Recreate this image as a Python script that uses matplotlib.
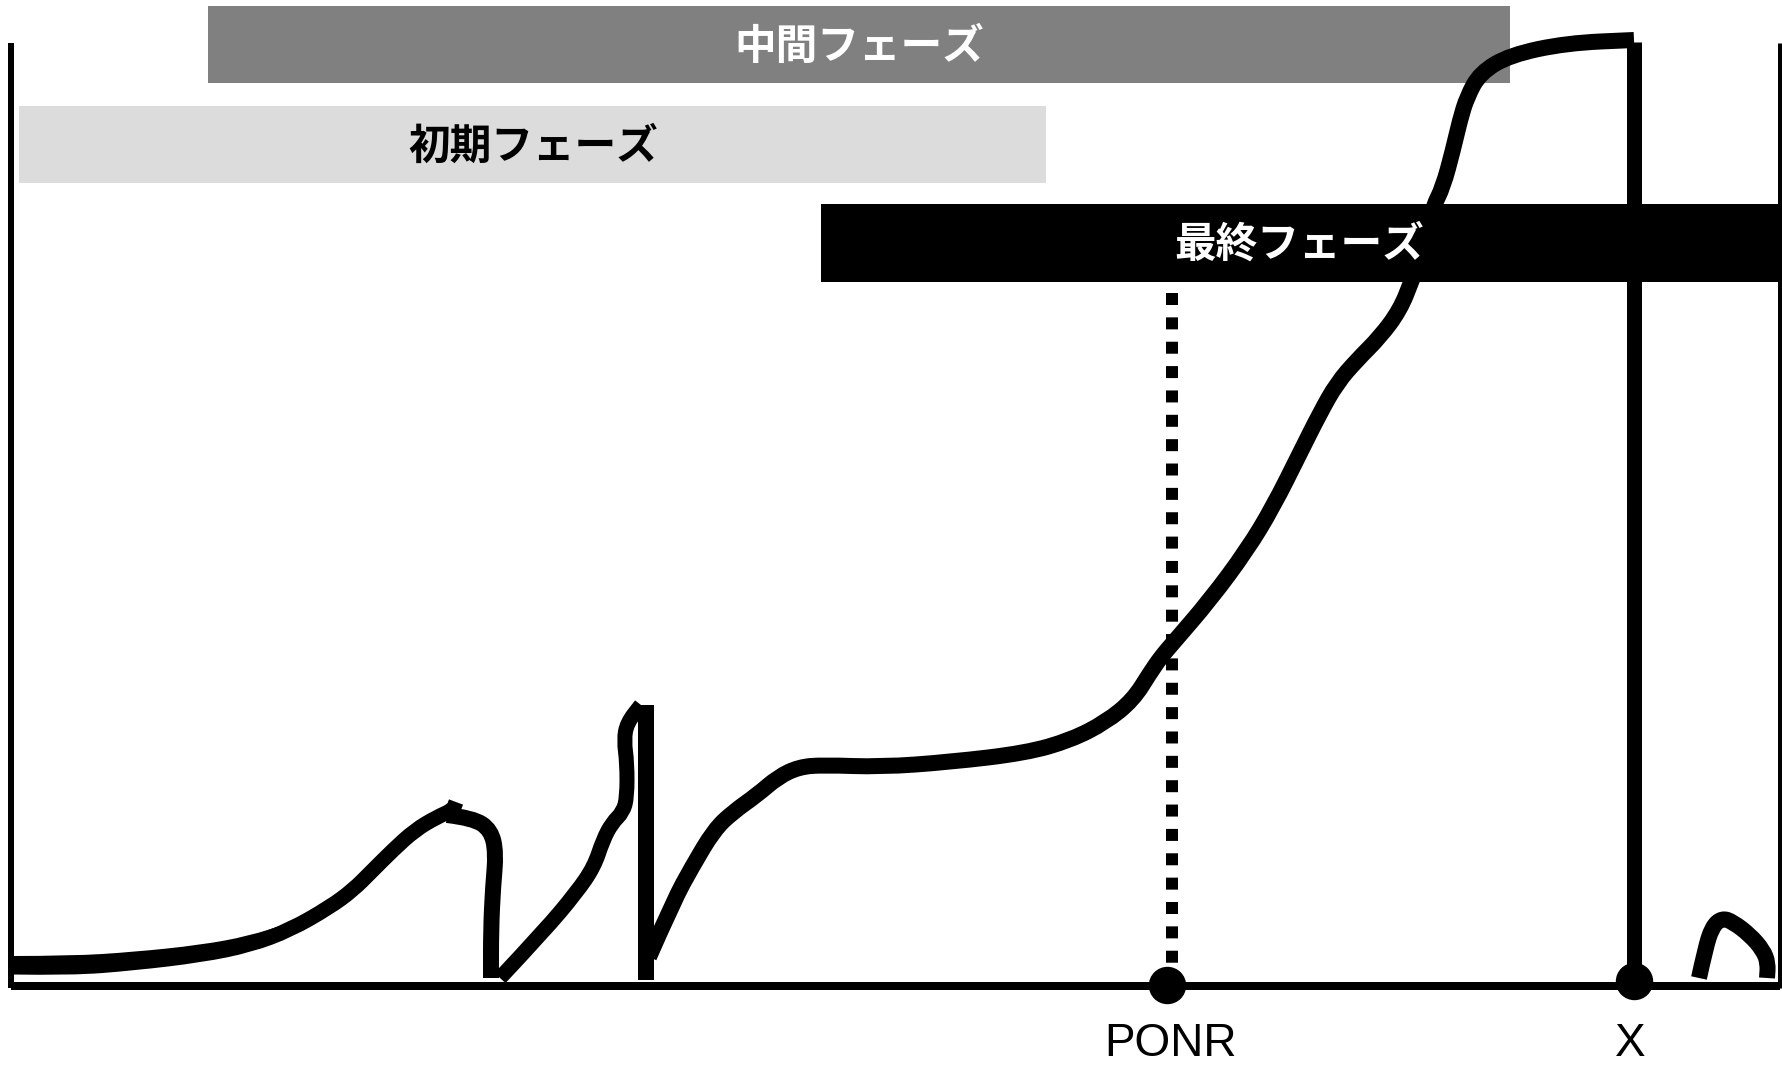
import matplotlib.pyplot as plt
from matplotlib.path import Path
from matplotlib.patches import PathPatch

plt.rcParams['font.family'] = ['Noto Sans CJK JP', 'DejaVu Sans']

# ---------- DATA (pixel coords of the hand-drawn sketch, y grows downward) ----------
phase_labels = ["中間フェーズ", "初期フェーズ", "最終フェーズ"]
phase_x0 = [208, 19, 821]
phase_x1 = [1510, 1046, 1783]
phase_y0 = [6, 106, 204]
phase_y1 = [83, 183, 282]
phase_colors = ["#808080", "#dcdcdc", "#000000"]
phase_text_colors = ["white", "black", "white"]
phase_text_x = [859, 533, 1299]

# early wobble, first stroke
early_x = [11, 71, 134, 201, 250, 290, 330, 353, 371, 393, 415, 437, 453, 456]
early_y = [967, 968, 963, 955, 945, 930, 907, 890, 872, 850, 830, 817, 810, 802]
# thick overlap at the start of the stroke
early2_x = [11, 71, 134, 201, 250, 290]
early2_y = [962, 962, 958, 951, 942, 929]

# second stroke: hook down, diagonal up to the spike
mid_x = [447, 473, 491, 496, 493, 491, 491]
mid_y = [815, 818, 830, 853, 887, 930, 978]
diag_x = [500, 545, 576, 594, 603, 612, 623, 627, 627, 624, 627, 641]
diag_y = [978, 930, 893, 867, 840, 823, 812, 797, 763, 740, 723, 705]
spike_x = [646, 646]
spike_y = [705, 980]

# main rise up to X
rise_x = [649, 674, 692, 714, 733, 757, 778, 799, 823, 881, 950, 1026, 1071, 1106,
          1133, 1150, 1161, 1173, 1210, 1247, 1273, 1300, 1320, 1337, 1357, 1380,
          1400, 1412, 1420, 1428, 1433, 1443, 1453, 1460, 1467, 1480, 1510, 1567, 1634]
rise_y = [957, 900, 867, 830, 812, 795, 777, 767, 765, 767, 762, 753, 740, 722,
          700, 673, 657, 643, 600, 550, 507, 453, 413, 383, 360, 337,
          310, 280, 258, 230, 207, 187, 150, 120, 97, 73, 55, 43, 40]
x_line_x = [1634, 1634]
x_line_y = [42, 978]

# small hump after X
hump_x = [1699, 1705, 1712, 1722, 1733, 1750, 1763, 1768, 1767]
hump_y = [978, 950, 927, 918, 922, 935, 950, 963, 978]

# frame
left_x = [11, 11]
left_y = [43, 988]
bottom_x = [11, 1780]
bottom_y = [986, 986]
right_x = [1780, 1780]
right_y = [43, 988]

# PONR dotted line and markers
ponr_x = 1172
ponr_top = 293
ponr_bottom = 963
marker_x = [1167, 1634]
marker_y = [985, 981]
marker_labels = ["PONR", "X"]
label_x = [1171, 1630]
label_y = [1044, 1044]


def smooth_path(xs, ys):
    # quadratic bezier through midpoints, read points act as control points
    pts = list(zip(xs, ys))
    verts = [pts[0]]
    codes = [Path.MOVETO]
    for i in range(1, len(pts) - 1):
        mid = ((pts[i][0] + pts[i + 1][0]) / 2, (pts[i][1] + pts[i + 1][1]) / 2)
        verts += [pts[i], mid]
        codes += [Path.CURVE3, Path.CURVE3]
    verts.append(pts[-1])
    codes.append(Path.LINETO)
    return Path(verts, codes)


# ---------- PLOT ----------
fig = plt.figure(figsize=(17.83, 10.68), dpi=100)
ax = fig.add_axes([0, 0, 1, 1])
ax.set_xlim(0, 1783)
ax.set_ylim(1068, 0)
ax.axis('off')

px = 0.72  # points per pixel at dpi 100

# phase bars
for i, lab in enumerate(phase_labels):
    z = 1 if i < 2 else 4
    ax.fill_between([phase_x0[i], phase_x1[i]], phase_y0[i], phase_y1[i],
                    color=phase_colors[i], lw=0, zorder=z)
    ax.text(phase_text_x[i], (phase_y0[i] + phase_y1[i]) / 2 + 2, lab,
            ha='center', va='center', fontsize=30, fontweight='bold',
            color=phase_text_colors[i], zorder=5)

# frame
for xs, ys, w in [(left_x, left_y, 6), (bottom_x, bottom_y, 8), (right_x, right_y, 5)]:
    ax.plot(xs, ys, color='black', lw=w * px, solid_capstyle='butt', zorder=2)

# dotted PONR line
ax.plot([ponr_x, ponr_x], [ponr_top, ponr_bottom], color='black', lw=12 * px,
        linestyle=(0, (1, 1.03)), dash_capstyle='butt', zorder=2)

# curve strokes
for xs, ys, w in [(early_x, early_y, 15), (early2_x, early2_y, 12),
                  (mid_x, mid_y, 16), (diag_x, diag_y, 15),
                  (rise_x, rise_y, 16), (hump_x, hump_y, 16)]:
    ax.add_patch(PathPatch(smooth_path(xs, ys), fill=False, edgecolor='black',
                           lw=w * px, capstyle='butt', joinstyle='round', zorder=3))

kw = dict(color='black', solid_capstyle='butt', zorder=3)
ax.plot(spike_x, spike_y, lw=16 * px, **kw)
ax.plot(x_line_x, x_line_y, lw=15 * px, **kw)

# markers + labels
ax.plot(marker_x, marker_y, 'o', color='black', ms=36 * px, zorder=6)
for i, lab in enumerate(marker_labels):
    ax.text(label_x[i], label_y[i], lab, ha='center', va='center',
            fontsize=33, family=['Liberation Sans', 'DejaVu Sans'], color='black')

fig.savefig("out.png", dpi=100)
